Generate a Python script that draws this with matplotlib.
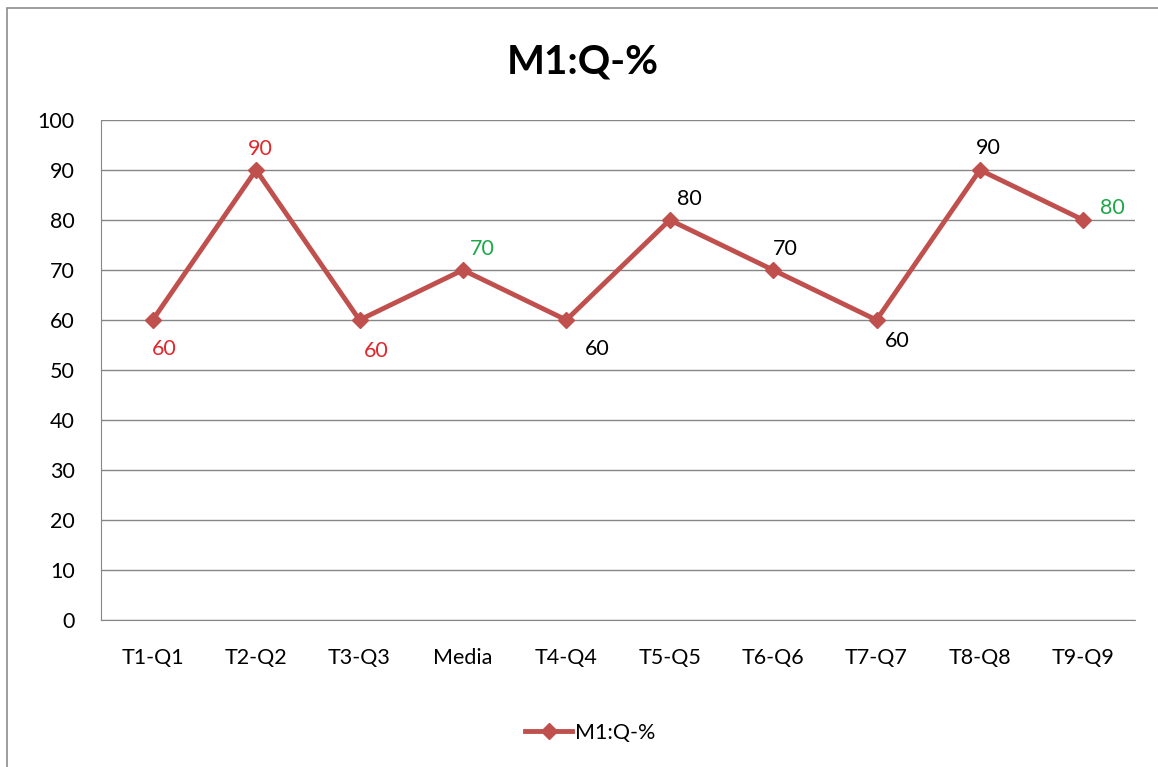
import matplotlib.pyplot as plt
from matplotlib.patches import Rectangle

categories = ["T1-Q1", "T2-Q2", "T3-Q3", "Media", "T4-Q4", "T5-Q5", "T6-Q6", "T7-Q7", "T8-Q8", "T9-Q9"]
values = [60, 90, 60, 70, 60, 80, 70, 60, 90, 80]
label_colors = ["#e0282e", "#e0282e", "#e0282e", "#1fa64a", "black",
                "black", "black", "black", "black", "#1fa64a"]
# offsets of the value labels in points (dx, dy)
label_offsets = [(8, -21), (3, 15), (12, -22), (14, 15), (22, -21),
                 (14, 15), (9, 15), (15, -15), (6, 16), (21, 9)]

plt.rcParams['font.family'] = ['Lato', 'DejaVu Sans']

W, H = 1158, 767
fig = plt.figure(figsize=(W / 100, H / 100), dpi=100)

# outer chart frame (cut off on right and bottom)
fig.patches.append(Rectangle((7 / W, -0.1), 1.2, (H - 8) / H + 0.1, transform=fig.transFigure,
                             fill=False, edgecolor="#8c8c8c", linewidth=1.2))

ax = fig.add_axes([101 / W, (H - 620) / H, (1135 - 101) / W, 500 / H])
x = range(len(categories))
ax.plot(x, values, color="#c0504d", linewidth=3.5, marker="D", markersize=8.5,
        label="M1:Q-%", zorder=3)

for i, v in enumerate(values):
    dx, dy = label_offsets[i]
    ax.annotate(str(v), (i, v), xytext=(dx, dy), textcoords="offset points",
                ha="center", va="center", fontsize=15.5, color=label_colors[i])

ax.set_xlim(-0.5, len(categories) - 0.5)
ax.set_ylim(0, 100)
ax.set_yticks(range(0, 101, 10))
ax.set_xticks(list(x))
ax.set_xticklabels(categories)
ax.grid(axis="y", color="#868686", linewidth=1)
ax.set_axisbelow(True)
for s in ["top", "right"]:
    ax.spines[s].set_visible(False)
ax.spines["left"].set_color("#868686")
ax.spines["bottom"].set_color("#868686")
ax.tick_params(axis="both", length=0, labelsize=15.5, colors="black")
ax.tick_params(axis="x", pad=20)
ax.tick_params(axis="y", pad=19)

fig.text(583 / W, 1 - 62 / H, "M1:Q-%", ha="center", va="center", fontsize=29, fontweight="bold")

fig.legend(loc="center", bbox_to_anchor=(590 / W, 1 - 733 / H), frameon=False, fontsize=15.5,
           handlelength=2.2, handletextpad=0.1, borderaxespad=0)

fig.savefig("out.png", dpi=100)
